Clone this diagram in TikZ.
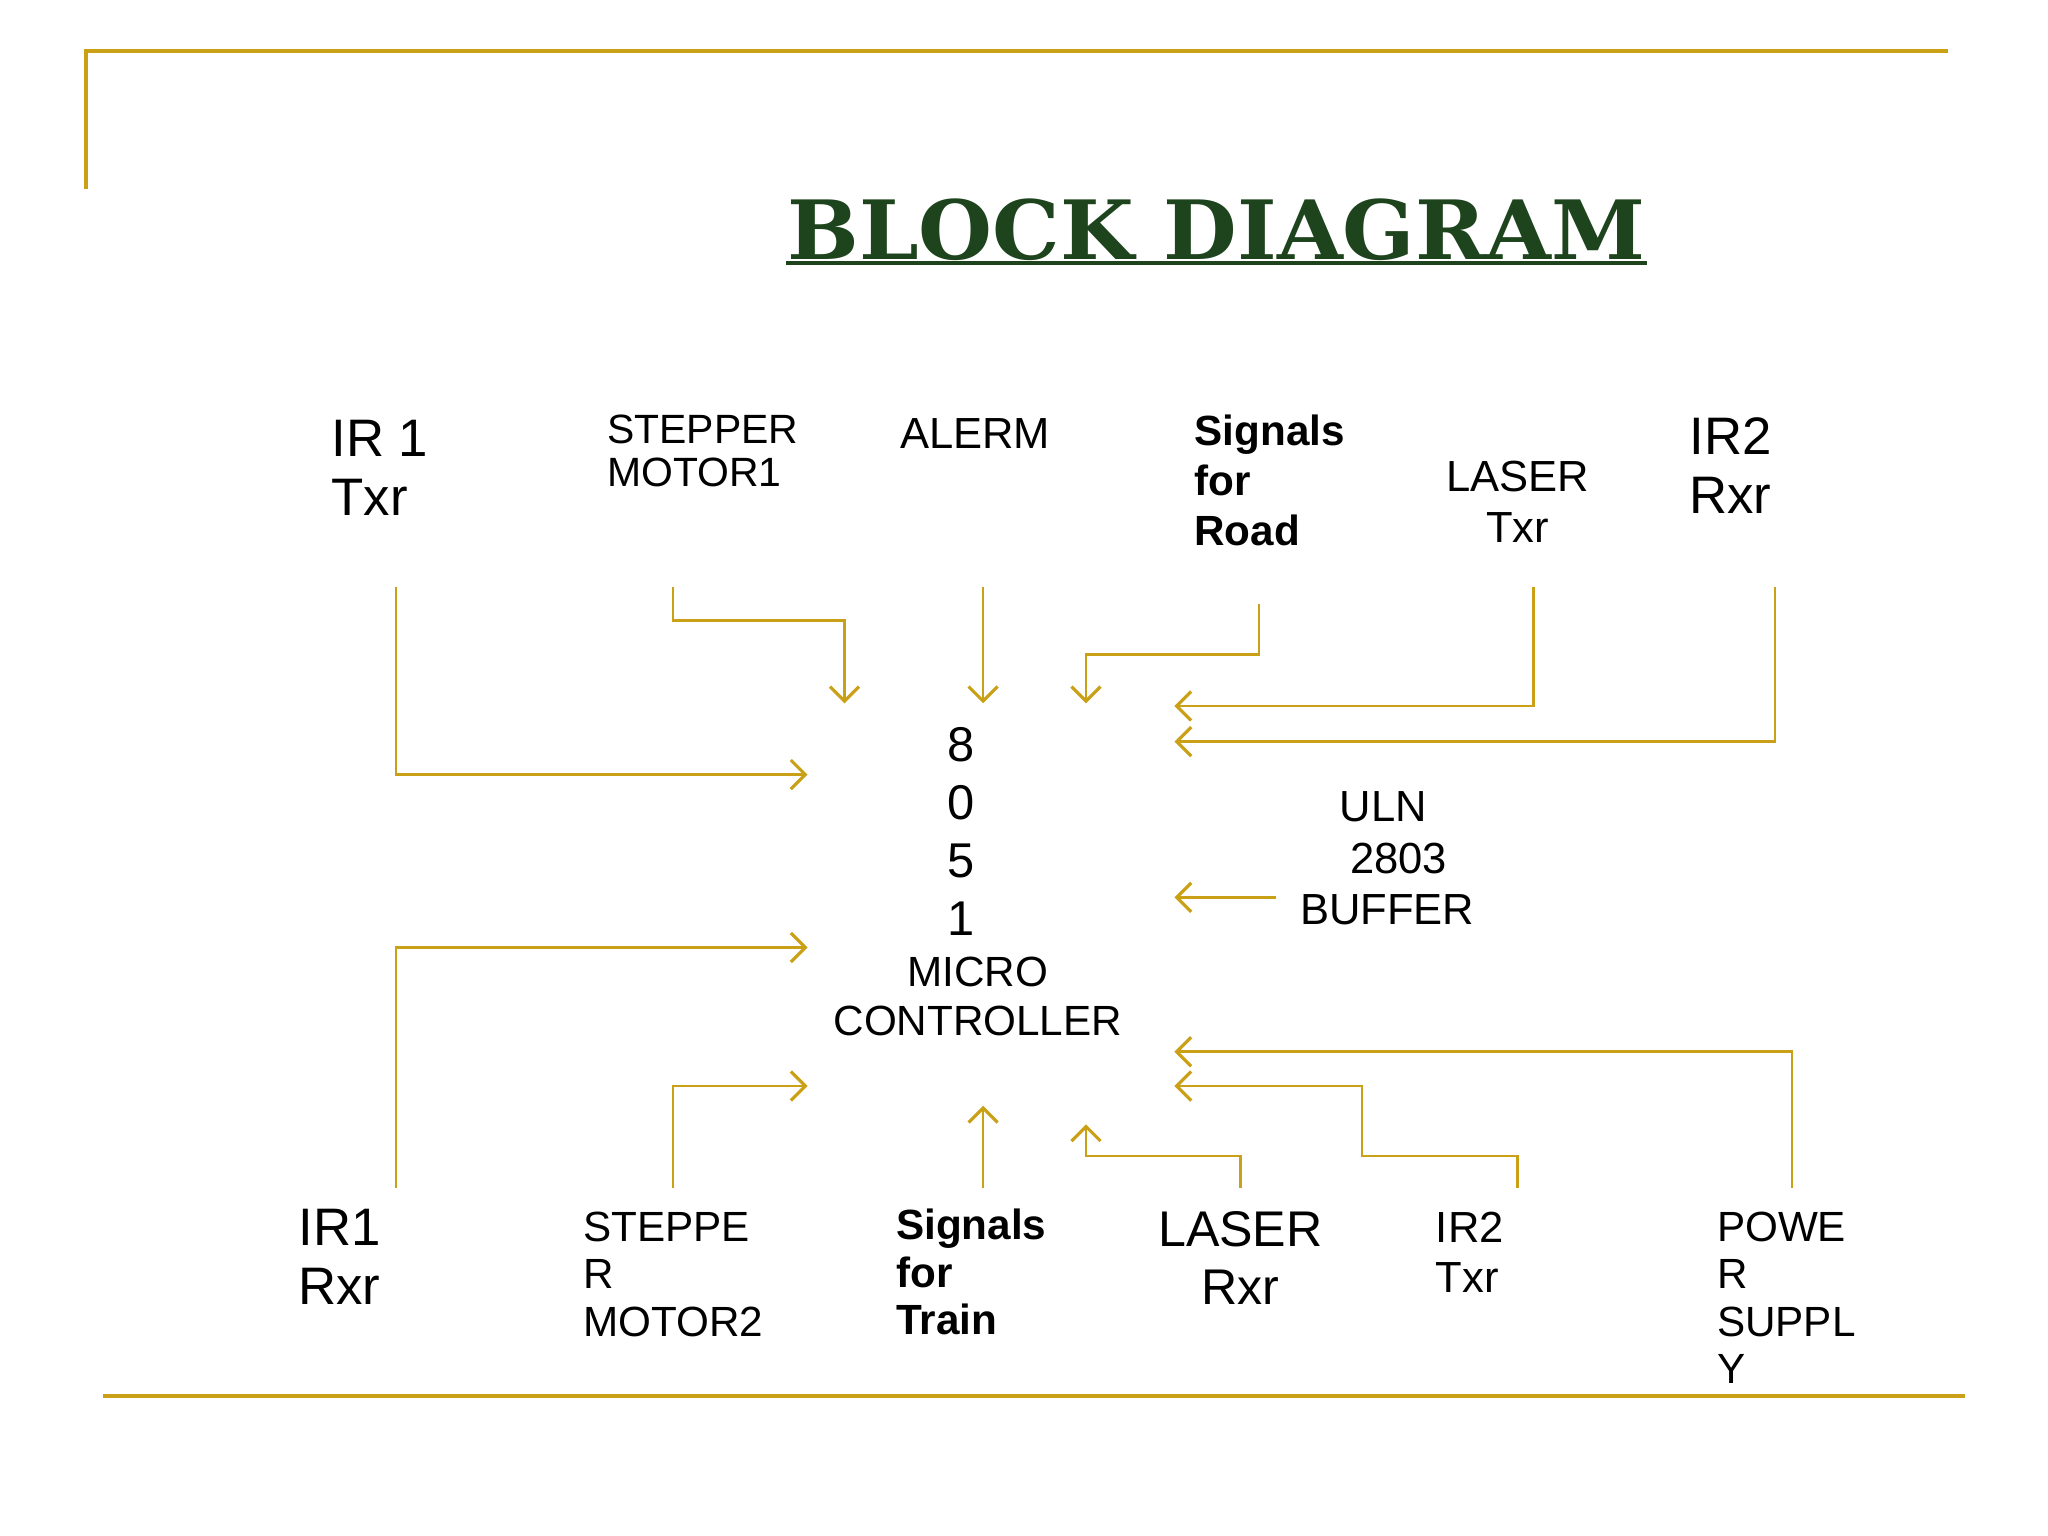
\documentclass[tikz,border=0pt]{standalone}
\usepackage{fontspec}
\setmainfont{Liberation Sans}
\newfontfamily\titlefont{DejaVu Serif}
\usetikzlibrary{arrows.meta}
\definecolor{gold}{RGB}{201,160,22}
\definecolor{tgreen}{RGB}{30,68,30}
\newcommand{\fz}[2]{\fontsize{#1pt}{#2pt}\selectfont}
\tikzset{
  lbl/.style={inner sep=0pt,anchor=north west,align=left},
  lblc/.style={inner sep=0pt,anchor=north,align=center},
  frame/.style={gold,line width=3pt},
  con/.style={gold,line width=2pt,-{Straight Barb[length=11pt,width=22pt,line width=2.4pt]}},
}
\begin{document}
\begin{tikzpicture}[x=1pt,y=-1pt]
\useasboundingbox (0,0) rectangle (1552,1164);
\draw[frame] (65,143) -- (65,39) -- (1476,39);
\draw[frame] (78,1058) -- (1489,1058);
\node[inner sep=0pt,text=tgreen] (title) at (922,174) {\resizebox{650pt}{46pt}{\titlefont\bfseries BLOCK DIAGRAM}};
\draw[tgreen,line width=3pt] (596,199) -- (1248,199);

\node[lbl,font=\fz{40}{45}] (irtx) at (251,318) {IR 1\\Txr};
\node[lbl,font=\fz{31}{33}] (st1) at (460,314) {STEPPER\\MOTOR1};
\node[lbl,font=\fz{33}{38}] (al) at (682,317) {ALERM};
\node[lbl,font=\fz{32}{38}\bfseries] (sr) at (905,314) {Signals\\for\\Road};
\node[lblc,font=\fz{33}{39}] (ltx) at (1150,349) {LASER\\Txr};
\node[lbl,font=\fz{40}{45}] (ir2rx) at (1280,316) {IR2\\Rxr};
\node[lblc,font=\fz{37}{44}] (mcdig) at (728,551) {8\\0\\5\\1};
\node[lblc,font=\fz{32}{37}] (mcname) at (741,725) {MICRO\\CONTROLLER};
\node[lbl,font=\fz{33}{39}] (uln) at (985,600) {\hspace{30pt}ULN\\\hspace{38pt}2803\\BUFFER};
\node[lbl,font=\fz{40}{45}] (ir1rx) at (226,916) {IR1\\Rxr};
\node[lbl,font=\fz{32}{36}] (st2) at (442,918) {STEPPE\\R\\MOTOR2};
\node[lbl,font=\fz{32}{36}\bfseries] (stn) at (679,916) {Signals\\for\\Train};
\node[lblc,font=\fz{38}{44}] (lrx) at (940,918) {LASER\\Rxr};
\node[lbl,font=\fz{33}{38}] (ir2tx) at (1088,918) {IR2\\Txr};
\node[lbl,font=\fz{32}{36}] (pw) at (1301,918) {POWE\\R\\SUPPL\\Y};

\foreach \n/\x/\y in {a1/300/445,b1/612/587, a2/510/445,b2/640/533, a3/745/445,b3/745/533,
  a4/954/458,b4/823/533, a5/1162/445,b5/890/535, a6/1345/445,b6/890/562, a7/967/680,b7/890/680,
  a8/300/900,b8/612/718, a9/510/900,b9/612/823, a10/745/900,b10/745/838,
  a11/940/900,b11/823/852, a12/1150/900,b12/890/823, a13/1358/900,b13/890/797}
  \coordinate (\n) at (\x,\y);

\draw[con] (a1) |- (b1);
\draw[con] (a2) -- (510,470) -| (b2);
\draw[con] (a3) -- (b3);
\draw[con] (a4) -- (954,496) -| (b4);
\draw[con] (a5) |- (b5);
\draw[con] (a6) |- (b6);
\draw[con] (a7) -- (b7);
\draw[con] (a8) |- (b8);
\draw[con] (a9) |- (b9);
\draw[con] (a10) -- (b10);
\draw[con] (a11) -- (940,876) -| (b11);
\draw[con] (a12) -- (1150,876) -- (1032,876) |- (b12);
\draw[con] (a13) |- (b13);
\end{tikzpicture}
\end{document}
